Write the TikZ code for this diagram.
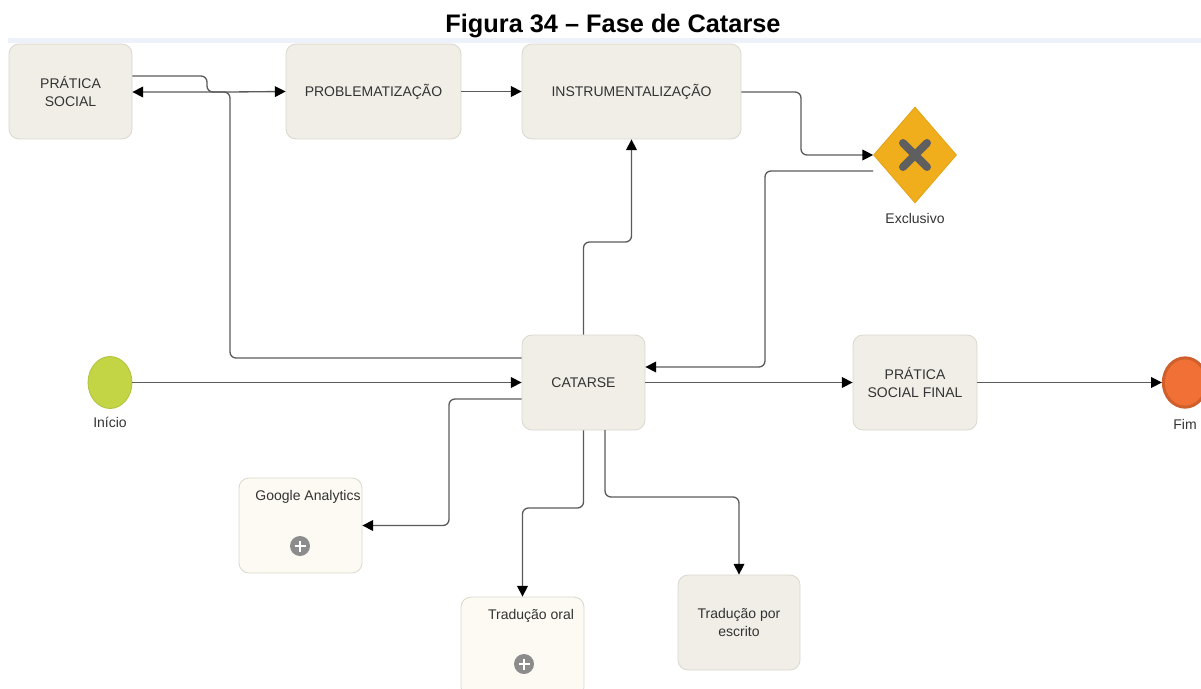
\documentclass[tikz,border=0pt]{standalone}
\usepackage{fontspec}
\setmainfont{Liberation Sans}
\usetikzlibrary{shapes.geometric,arrows.meta}
\definecolor{boxfill}{HTML}{F0EEE7}
\definecolor{boxline}{HTML}{DAD7CD}
\definecolor{subfill}{HTML}{FCFAF2}
\definecolor{conncol}{HTML}{5A5A5A}
\definecolor{txt}{HTML}{333333}
\definecolor{band}{HTML}{EDF1F9}
\definecolor{gwfill}{HTML}{F0AE1C}
\definecolor{gwline}{HTML}{E3A214}
\definecolor{xcol}{HTML}{5F5F5F}
\definecolor{inifill}{HTML}{C3D545}
\definecolor{iniline}{HTML}{B0C23A}
\definecolor{fimfill}{HTML}{F07036}
\definecolor{fimline}{HTML}{CF5F2B}
\definecolor{pluscol}{HTML}{8C8C8C}
\tikzset{
  task/.style={draw=boxline, fill=boxfill, rounded corners=7.5pt, line width=0.6pt,
    minimum width=92.25pt, minimum height=71.25pt, inner sep=0pt,
    align=center, text=txt, font=\fontsize{10.5}{14}\selectfont},
  subtask/.style={task, fill=subfill},
  lbl/.style={text=txt, font=\fontsize{10.5}{14}\selectfont, inner sep=0pt},
  conn/.style={draw=conncol, line width=1pt, rounded corners=4.5pt,
    -{Triangle[length=8pt,width=8pt,fill=black,color=black]}},
  plain/.style={draw=conncol, line width=1pt, rounded corners=4.5pt},
}
\begin{document}
\begin{tikzpicture}[x=0.75pt,y=-0.75pt]
\useasboundingbox (0,0) rectangle (1201,688);
% title and band
\node[font=\fontsize{19}{22}\selectfont\bfseries, anchor=base, inner sep=0pt] (title) at (613,32.5) {Figura 34 – Fase de Catarse};
\fill[band] (8,38) rectangle (1201,43.5);
% tasks
\node[task] (ps) at (70.5,91.5) {PRÁTICA\\SOCIAL};
\node[task, minimum width=131.25pt] (prob) at (373.5,91.5) {PROBLEMATIZAÇÃO};
\node[task, minimum width=164.25pt] (instr) at (631.5,91.5) {INSTRUMENTALIZAÇÃO};
\node[task] (cat) at (583.5,382.5) {CATARSE};
\node[task, minimum width=93pt] (psf) at (915,382.5) {PRÁTICA\\SOCIAL FINAL};
\node[subtask] (ga) at (300.5,525.5) {};
\node[lbl] (galbl) at (308,497) {Google Analytics};
\node[subtask, minimum height=75pt] (oral) at (522.5,647) {};
\node[lbl] (orallbl) at (531,616) {Tradução oral};
\node[task, minimum width=91.5pt] (escr) at (739,622.5) {Tradução por\\escrito};
% plus markers
\node[circle, fill=pluscol, minimum size=15pt, inner sep=0pt] (gaplus) at (300,546) {};
\draw[white, line width=2pt] (gaplus.center) ++(-5.5,0) -- ++(11,0) (gaplus.center) ++(0,-5.5) -- ++(0,11);
\node[circle, fill=pluscol, minimum size=15pt, inner sep=0pt] (oralplus) at (524,664) {};
\draw[white, line width=2pt] (oralplus.center) ++(-5.5,0) -- ++(11,0) (oralplus.center) ++(0,-5.5) -- ++(0,11);
% gateway
\node[diamond, draw=gwline, fill=gwfill, line width=0.6pt, minimum width=62.25pt, minimum height=72pt, inner sep=0pt] (gw) at (915,155) {};
\draw[xcol, line width=6pt, line cap=round] (gw.center) ++(-12,-12) -- ++(24,24) (gw.center) ++(12,-12) -- ++(-24,24);
\node[lbl] (gwlbl) at (915,218) {Exclusivo};
\coordinate (gwout) at (873,171);
% events
\node[ellipse, draw=iniline, fill=inifill, line width=0.6pt, minimum width=33pt, minimum height=39pt, inner sep=0pt] (ini) at (110,382.5) {};
\node[lbl] (inilbl) at (110,422) {Início};
\node[ellipse, draw=fimline, fill=fimfill, line width=2.25pt, minimum width=32.5pt, minimum height=37pt, inner sep=0pt] (fim) at (1185,382.5) {};
\node[lbl] (fimlbl) at (1185,424) {Fim};
% connectors
\draw[plain] (ps.east |- 0,76) -- (207,76) -- (207,92) -- (230,92);
\draw[conn] (230,92) -- (prob.west);
\draw[conn] (cat.west |- 0,358) -- (230,358) -- (230,92) -- (ps.east |- 0,92);
\draw[conn] (prob.east) -- (instr.west);
\draw[conn] (instr.east |- 0,92) -- (801,92) -- (801,155) -- (gw.west);
\draw[conn] (gwout) -- (765,171) -- (765,367) -- (cat.east |- 0,367);
\draw[conn] (cat.north) -- (cat.north |- 0,242) -- (instr.south |- 0,242) -- (instr.south);
\draw[conn] (ini.east) -- (cat.west);
\draw[conn] (cat.east) -- (psf.west);
\draw[conn] (psf.east) -- (fim.west);
\draw[conn] (cat.west |- 0,399) -- (449,399) -- (449,525.5) -- (ga.east);
\draw[conn] (cat.south) -- (583.5,508) -- (oral.north |- 0,508) -- (oral.north);
\draw[conn] (605,430) -- (605,497) -- (escr.north |- 0,497) -- (escr.north);
\end{tikzpicture}
\end{document}
